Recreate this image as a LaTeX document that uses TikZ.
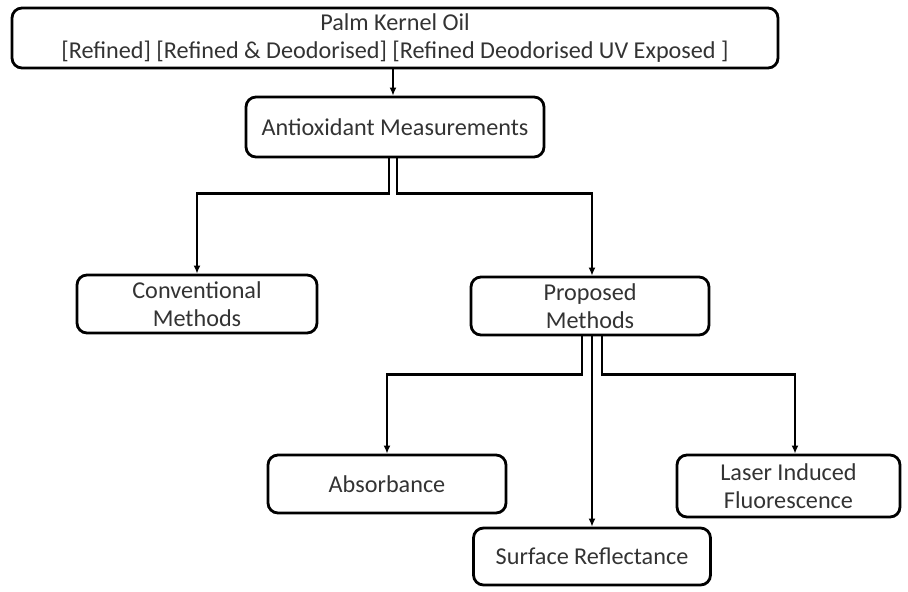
\documentclass[tikz,border=0pt]{standalone}
\usepackage{fontspec}
\setmainfont{Carlito}
\usetikzlibrary{arrows.meta}

\begin{document}
\begin{tikzpicture}[x=0.5pt,y=-0.5pt,
        font=\fontsize{12.1}{14}\selectfont,
        box/.style={draw, line width=1.4pt, rounded corners=5pt, align=center, inner sep=0pt, text=black!80},
        link/.style={line width=1.1pt, -{Latex[length=4pt,width=3.5pt]}}]
                \useasboundingbox (0,0) rectangle (908,591);
                \node[box, minimum width=383pt, minimum height=30pt] (oil) at (395,38)
                    {Palm Kernel Oil\\{}[Refined] [Refined \& Deodorised] [Refined Deodorised UV Exposed ]};
                \node[box, minimum width=149pt, minimum height=30pt] (anti) at (395,127) {Antioxidant Measurements};
                \node[box, minimum width=120pt, minimum height=29pt] (conv) at (197,304) {Conventional\\Methods};
                \node[box, minimum width=119pt, minimum height=29pt] (prop) at (590,306) {Proposed\\Methods};
                \node[box, minimum width=119pt, minimum height=29pt] (abs) at (387,484) {Absorbance};
                \node[box, minimum width=118.5pt, minimum height=28.5pt] (surf) at (592,556.5) {Surface Reflectance};
                \node[box, minimum width=111.5pt, minimum height=31pt] (laser) at (788.5,486) {Laser Induced\\Fluorescence};
                \draw[link] ([xshift=-1pt]oil.south) -- ([xshift=-1pt]anti.north);
                \draw[link] ([xshift=-3pt]anti.south) -- ++(0,35) -| (conv.north);
                \draw[link] ([xshift=1pt]anti.south) -- ++(0,35) -| ([xshift=1pt]prop.north);
                \draw[link] ([xshift=-4pt]prop.south) -- ++(0,38) -| (abs.north);
                \draw[link] ([xshift=1pt]prop.south) -- (surf.north);
                \draw[link] ([xshift=6pt]prop.south) -- ++(0,38) -| ([xshift=3.25pt]laser.north);
            \end{tikzpicture}
\end{document}
